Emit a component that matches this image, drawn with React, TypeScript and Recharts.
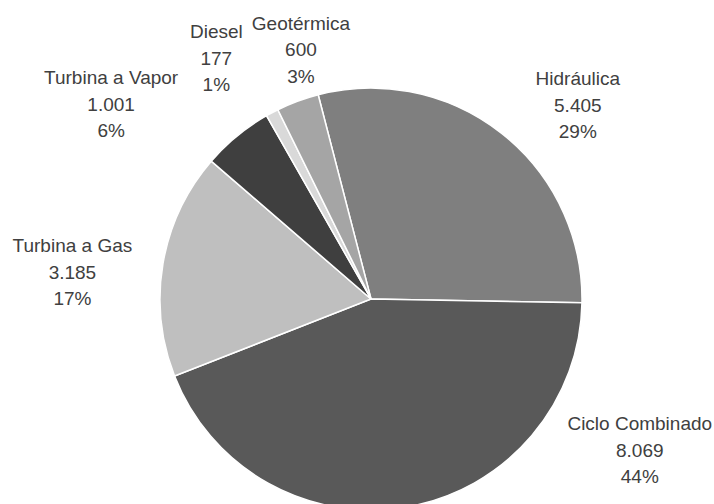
import React from 'react';
import { PieChart, Pie, Cell } from 'recharts';

const categories = ['Hidráulica', 'Ciclo Combinado', 'Turbina a Gas', 'Turbina a Vapor', 'Diesel', 'Geotérmica'];
const values = [5405, 8069, 3185, 1001, 177, 600];
const percentLabels = ['29%', '44%', '17%', '6%', '1%', '3%'];
const colors = ['#7f7f7f', '#595959', '#bfbfbf', '#3f3f3f', '#d9d9d9', '#a5a5a5'];
// label nudges relative to a radial anchor at 1.2 * outerRadius
const labelNudges: [number, number][] = [[50, 5], [224, -98], [-49, 16], [-99, 1], [-36, -17], [18, -12]];

const data = categories.map((name, i) => ({ name, value: values[i] }));

const fmt = (v: number) => String(v).replace(/\B(?=(\d{3})+(?!\d))/g, '.');

const RAD = Math.PI / 180;
const LINE = 26.5;

const renderLabel = (props: any) => {
  const { cx, cy, midAngle, outerRadius, index, value } = props;
  const r = outerRadius * 1.2;
  const ax = cx + r * Math.cos(-midAngle * RAD) + labelNudges[index][0];
  const ay = cy + r * Math.sin(-midAngle * RAD) + labelNudges[index][1];
  const lines = [categories[index], fmt(value), percentLabels[index]];
  return (
    <g key={`lbl-${index}`}>
      {lines.map((t, k) => (
        <text
          key={k}
          x={ax}
          y={ay + (k - 1) * LINE}
          textAnchor="middle"
          dominantBaseline="central"
          fill="#404040"
          fontSize={19}
          fontFamily="'Liberation Sans', Arial, sans-serif"
        >
          {t}
        </text>
      ))}
    </g>
  );
};

export default function App() {
  return (
    <div style={{ position: 'absolute', left: 0, top: 0, width: 714, height: 504, background: '#fff' }}>
      <PieChart width={714} height={504} margin={{ top: 0, right: 0, bottom: 0, left: 0 }}>
        <Pie
          data={data}
          dataKey="value"
          nameKey="name"
          cx={371}
          cy={299}
          outerRadius={211}
          startAngle={104.5}
          endAngle={-255.5}
          stroke="#ffffff"
          strokeWidth={1.5}
          label={renderLabel}
          labelLine={false}
          isAnimationActive={false}
        >
          {data.map((d, i) => (
            <Cell key={d.name} fill={colors[i]} />
          ))}
        </Pie>
      </PieChart>
    </div>
  );
}
